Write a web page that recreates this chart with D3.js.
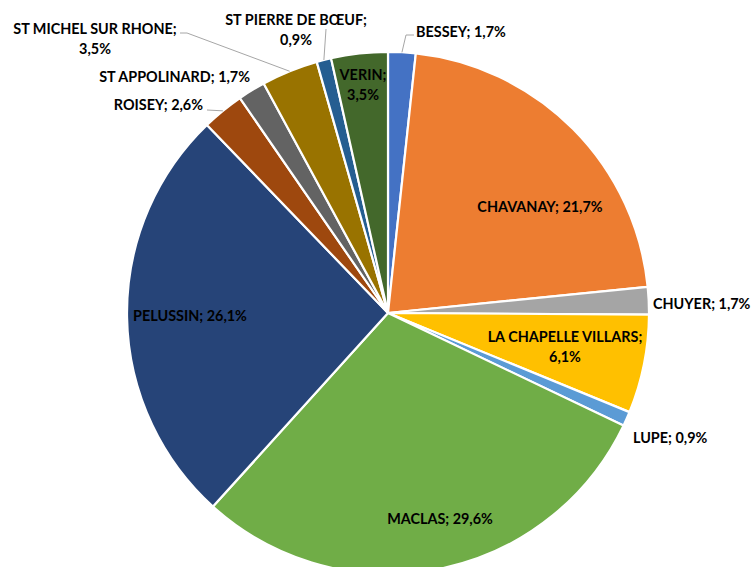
<!DOCTYPE html>
<html><head><meta charset="utf-8">
<script src="https://cdn.jsdelivr.net/npm/d3@7"></script>
<style>html,body{margin:0;padding:0;background:#fff;overflow:hidden}</style>
</head><body>
<svg id="c" width="752" height="567"></svg>
<script>
// ---- data ----
const communes = ["BESSEY","CHAVANAY","CHUYER","LA CHAPELLE VILLARS","LUPE","MACLAS","PELUSSIN","ROISEY","ST APPOLINARD","ST MICHEL SUR RHONE","ST PIERRE DE BŒUF","VERIN"];
const percents = [1.7,21.7,1.7,6.1,0.9,29.6,26.1,2.6,1.7,3.5,0.9,3.5];
const colors = ["#4472C4","#ED7D31","#A5A5A5","#FFC000","#5B9BD5","#70AD47","#264478","#9E480E","#636363","#997300","#255E91","#43682B"];

// ---- layout (label placement, relative to pie centre) ----
const cx = 388, cy = 313, R = 261;
const labelLayout = [
  {dx: 28,  dy: -281, anchor: "start",  br: false, leader: [[18,-278],[26,-278]]},
  {dx: 152, dy: -106, anchor: "middle", br: false},
  {dx: 265, dy: -9,   anchor: "start",  br: false},
  {dx: 177, dy: 24,   anchor: "middle", br: true},
  {dx: 245, dy: 125,  anchor: "start",  br: false},
  {dx: 52,  dy: 206,  anchor: "middle", br: false},
  {dx: -198,dy: 3,    anchor: "middle", br: false},
  {dx: -185,dy: -208, anchor: "end",    br: false, leader: [[-181,-203]]},
  {dx: -138,dy: -236, anchor: "end",    br: false},
  {dx: -293,dy: -284, anchor: "middle", br: true, leader: [[-201,-280],[-208,-280]]},
  {dx: -92, dy: -293, anchor: "middle", br: true, leader: [[-62,-284]]},
  {dx: -25, dy: -238, anchor: "middle", br: true}
];

const fmt = v => String(v).replace(".", ",") + "%";
const svg = d3.select("#c");
const g = svg.append("g").attr("transform", `translate(${cx},${cy})`);

const pie = d3.pie().sort(null).value(d => d.v).startAngle(0).endAngle(2*Math.PI);
const data = communes.map((n,i) => ({name:n, v:percents[i], color:colors[i], lay:labelLayout[i]}));
const arcs = pie(data);
const arc = d3.arc().innerRadius(0).outerRadius(R);
const edge = d3.arc().innerRadius(R).outerRadius(R);

g.selectAll("path.slice").data(arcs).join("path")
  .attr("class","slice")
  .attr("d", arc)
  .attr("fill", d => d.data.color)
  .attr("stroke", "#fff")
  .attr("stroke-width", 2.2)
  .attr("stroke-linejoin","round");

const line = d3.line();
arcs.filter(d => d.data.lay.leader).forEach(d => {
  const p0 = edge.centroid(d);
  const pts = [p0].concat(d.data.lay.leader);
  g.append("path").attr("d", line(pts)).attr("fill","none")
    .attr("stroke","#A6A6A6").attr("stroke-width",1);
});

const capHalf = 4.8, lineH = 20.5;
arcs.forEach(d => {
  const L = d.data.lay;
  const t = g.append("text")
    .attr("text-anchor", L.anchor)
    .attr("font-family", "Lato, 'Open Sans', sans-serif")
    .attr("font-weight", "bold")
    .attr("font-size", "14.4px")
    .attr("fill", "#000");
  if (L.br) {
    t.append("tspan").attr("x", L.dx).attr("y", L.dy + capHalf).text(d.data.name + ";");
    t.append("tspan").attr("x", L.dx).attr("y", L.dy + capHalf + lineH).text(fmt(d.data.v));
  } else {
    t.attr("x", L.dx).attr("y", L.dy + capHalf).text(d.data.name + "; " + fmt(d.data.v));
  }
});
</script>
</body></html>
